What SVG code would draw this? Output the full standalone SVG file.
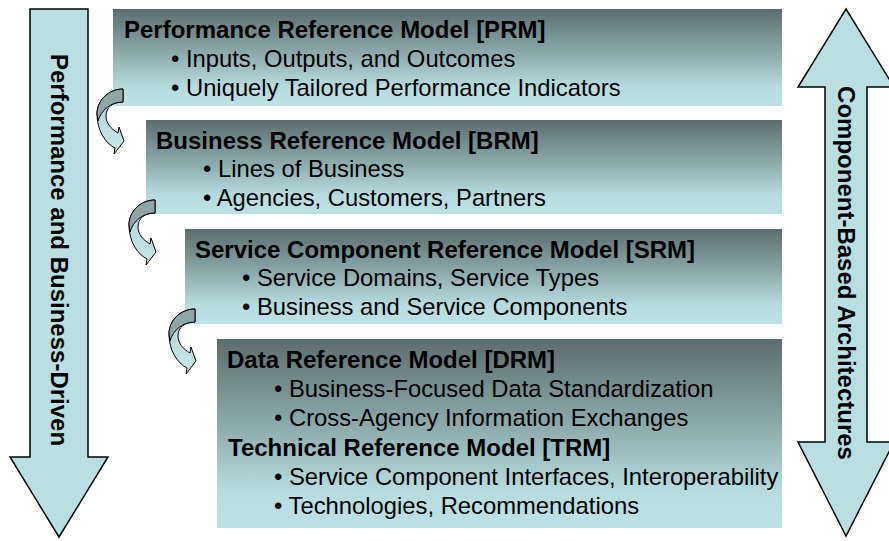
<svg xmlns="http://www.w3.org/2000/svg" xmlns:xlink="http://www.w3.org/1999/xlink" width="889" height="541" viewBox="0 0 889 541">
  <defs>
    <linearGradient id="boxFill" x1="0" y1="0" x2="0" y2="1">
      <stop offset="0" stop-color="#5c6d6e"/>
      <stop offset="0.45" stop-color="#8ba9ab"/>
      <stop offset="0.8" stop-color="#b6dcdf"/>
      <stop offset="1" stop-color="#bde2e5"/>
    </linearGradient>
    <linearGradient id="curlFill" x1="0" y1="0" x2="0" y2="1">
      <stop offset="0" stop-color="#b3d3d6"/>
      <stop offset="1" stop-color="#c6e8ea"/>
    </linearGradient>
    <!-- curled connector arrow, origin at its top-right corner -->
    <g id="curl">
      <path class="curl-body" d="M0,0 C-14,0 -26,11 -26,25 C-26,41 -18,54 -8,59 L-9,65 L1,52 L-4,38 L-5,44 C-12,40 -17,34 -17,27 C-17,18 -10,13 0,13 Z"/>
      <path class="curl-back" d="M0,0 C-14,0 -26,11 -26,25 L-25,32 C-22,21 -12,13 0,13 Z"/>
    </g>
  </defs>
  <style>
    .box { fill: url(#boxFill); }
    .big-arrow { fill: #b9dfe2; stroke: #000; stroke-width: 1.5; stroke-linejoin: miter; }
    .curl-body { fill: url(#curlFill); stroke: #000; stroke-width: 1; stroke-linejoin: miter; }
    .curl-back { fill: #8fa6a8; stroke: #000; stroke-width: 1; }
    .title { font-family: "Liberation Sans", Arial, sans-serif; font-size: 24px; font-weight: bold; fill: #000; }
    .item { font-family: "Liberation Sans", Arial, sans-serif; font-size: 23.8px; fill: #000; }
    .side { font-family: "Liberation Sans", Arial, sans-serif; font-size: 24px; font-weight: bold; fill: #000; text-anchor: middle; }
  </style>

  <rect width="889" height="541" fill="#ffffff"/>

  <!-- left: downward arrow -->
  <g id="business-driven">
    <path class="big-arrow" d="M30,9 L88,9 L88,457 L108,457 L59,537 L10,457 L30,457 Z"/>
    <text class="side" transform="translate(59,250) rotate(90)" x="0" y="8.5">Performance and Business-Driven</text>
  </g>

  <!-- right: two-way arrow -->
  <g id="component-based">
    <path class="big-arrow" d="M846,9 L894,87 L867,87 L867,442 L894,442 L846,536 L798,442 L825,442 L825,87 L798,87 Z"/>
    <text class="side" transform="translate(846,273) rotate(90)" x="0" y="8.5">Component-Based Architectures</text>
  </g>

  <g id="prm">
    <rect class="box" x="113" y="9" width="669" height="97"/>
    <text class="title" x="124" y="38">Performance Reference Model [PRM]</text>
    <text class="item" x="171" y="67">• Inputs, Outputs, and Outcomes</text>
    <text class="item" x="171" y="96">• Uniquely Tailored Performance Indicators</text>
  </g>

  <g id="brm">
    <rect class="box" x="146" y="120" width="636" height="94"/>
    <text class="title" x="156" y="149">Business Reference Model [BRM]</text>
    <text class="item" x="203" y="177">• Lines of Business</text>
    <text class="item" x="203" y="206">• Agencies, Customers, Partners</text>
  </g>

  <g id="srm">
    <rect class="box" x="185" y="229" width="597" height="95"/>
    <text class="title" x="195" y="258">Service Component Reference Model [SRM]</text>
    <text class="item" x="242" y="286">• Service Domains, Service Types</text>
    <text class="item" x="242" y="315">• Business and Service Components</text>
  </g>

  <g id="drm-trm">
    <rect class="box" x="217" y="339" width="565" height="189"/>
    <text class="title" x="227" y="368">Data Reference Model [DRM]</text>
    <text class="item" x="274" y="397">• Business-Focused Data Standardization</text>
    <text class="item" x="274" y="426">• Cross-Agency Information Exchanges</text>
    <text class="title" x="228" y="456">Technical Reference Model [TRM]</text>
    <text class="item" x="274" y="485">• Service Component Interfaces, Interoperability</text>
    <text class="item" x="274" y="514">• Technologies, Recommendations</text>
  </g>

  <!-- curled arrows stepping down between the layers -->
  <g id="connectors">
    <use xlink:href="#curl" transform="translate(123,89)"/>
    <use xlink:href="#curl" transform="translate(155,200)"/>
    <use xlink:href="#curl" transform="translate(195,309)"/>
  </g>
</svg>
